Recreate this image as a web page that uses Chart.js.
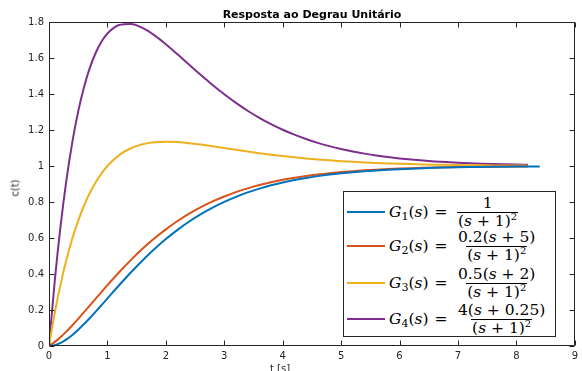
<!DOCTYPE html>
<html>
<head>
<meta charset="utf-8">
<script src="https://cdn.jsdelivr.net/npm/chart.js@4/dist/chart.umd.min.js"></script>
<style>
  html, body { margin: 0; padding: 0; background: #fff; overflow: hidden; }
  #wrap { position: relative; width: 582px; height: 371px; overflow: hidden; }
  #title { position: absolute; left: 162px; width: 300px; top: 8px; text-align: center;
    font: bold 11px "DejaVu Sans", sans-serif; line-height: 13px; color: #000; }
  #xlabel { position: absolute; left: 230px; width: 100px; top: 363px; text-align: center;
    font: 10px "DejaVu Sans", sans-serif; line-height: 12px; color: #262626; }
  #ylabel { position: absolute; left: 15px; top: 188px; transform: translate(-50%, -50%) rotate(-90deg);
    font: 10px "DejaVu Sans", sans-serif; color: #262626; white-space: nowrap; }
  #legend { position: absolute; left: 343px; top: 191px; width: 211px; height: 144px;
    background: #fff; border: 1px solid #262626; box-sizing: content-box; }
  .row { position: absolute; left: 0; width: 100%; height: 36px; }
  .sample { position: absolute; left: 3px; top: 17px; width: 38px; height: 2px; }
  .lab, .frac { position: absolute; top: 50%; transform: translateY(-50%);
    font-family: "DejaVu Serif", serif; font-size: 15.5px; line-height: 14.5px; color: #000; white-space: nowrap; }
  .lab { left: 45px; line-height: 16px; }
  .lab .eq { margin-left: 6px; }
  .lab sub { font-size: 11px; font-style: normal; vertical-align: -3px; line-height: 0; }
  .frac { left: 113px; display: inline-flex; flex-direction: column; align-items: center; }
  .frac span { display: block; padding: 0 1px; }
  .frac .num { padding-bottom: 1px; }
  .frac .den { border-top: 1px solid #000; padding-top: 1px; }
  .frac sup { font-size: 10px; vertical-align: 6px; line-height: 0; }
</style>
</head>
<body>
<div id="wrap">
  <canvas id="chart" width="582" height="371"></canvas>
  <div id="title">Resposta ao Degrau Unitário</div>
  <div id="xlabel">t [s]</div>
  <div id="ylabel">c(t)</div>
  <div id="legend"></div>
</div>
<script>
// tempo (s)
const tempo = [0, 0.1, 0.2, 0.3, 0.4, 0.5, 0.6, 0.7, 0.8, 0.9, 1.0,
  1.2, 1.4, 1.6, 1.8, 2.0, 2.2, 2.4, 2.6, 2.8, 3.0, 3.2, 3.4, 3.6, 3.8, 4.0,
  4.2, 4.4, 4.6, 4.8, 5.0, 5.2, 5.4, 5.6, 5.8, 6.0, 6.2, 6.4, 6.6, 6.8, 7.0,
  7.2, 7.4, 7.6, 7.8, 8.0, 8.2, 8.4];

const g1 = [0, 0.0047, 0.0175, 0.0369, 0.0616, 0.0902, 0.1219, 0.1558, 0.1912, 0.2275, 0.2642,
  0.3374, 0.4082, 0.4751, 0.5372, 0.5940, 0.6454, 0.6916, 0.7326, 0.7689, 0.8009, 0.8288, 0.8532,
  0.8743, 0.8926, 0.9084, 0.9220, 0.9337, 0.9437, 0.9523, 0.9596, 0.9658, 0.9711, 0.9756, 0.9794,
  0.9826, 0.9854, 0.9877, 0.9897, 0.9913, 0.9927, 0.9939, 0.9949, 0.9957, 0.9964, 0.9970, 0.9975, 0.9979];
const g2 = [0, 0.0228, 0.0503, 0.0814, 0.1152, 0.1509, 0.1878, 0.2253, 0.2631, 0.3007, 0.3378,
  0.4097, 0.4772, 0.5397, 0.5967, 0.6481, 0.6942, 0.7351, 0.7712, 0.8030, 0.8307, 0.8549, 0.8759,
  0.8940, 0.9096, 0.9231, 0.9346, 0.9445, 0.9530, 0.9602, 0.9663, 0.9715, 0.9760, 0.9797, 0.9829,
  0.9856, 0.9879, 0.9898, 0.9915, 0.9928, 0.9940, 0.9950, 0.9958, 0.9965, 0.9970, 0.9975, 0.9979];
const g3 = [0, 0.1856, 0.3450, 0.4814, 0.5978, 0.6967, 0.7805, 0.8510, 0.9101, 0.9593, 1.0000,
  1.0602, 1.0986, 1.1211, 1.1322, 1.1353, 1.1330, 1.1270, 1.1188, 1.1095, 1.0996, 1.0897, 1.0801,
  1.0710, 1.0626, 1.0549, 1.0480, 1.0417, 1.0362, 1.0313, 1.0270, 1.0232, 1.0199, 1.0170, 1.0145,
  1.0124, 1.0106, 1.0090, 1.0076, 1.0065, 1.0055, 1.0046, 1.0039, 1.0033, 1.0028, 1.0023, 1.0020];
const g4 = [0, 0.3666, 0.6725, 0.9259, 1.1341, 1.3033, 1.4390, 1.5462, 1.6291, 1.6912, 1.7358,
  1.7831, 1.7891, 1.7672, 1.7273, 1.6767, 1.6205, 1.5624, 1.5051, 1.4500, 1.3983, 1.3506, 1.3070,
  1.2678, 1.2327, 1.2015, 1.1740, 1.1498, 1.1287, 1.1103, 1.0943, 1.0805, 1.0687, 1.0584, 1.0497,
  1.0421, 1.0357, 1.0302, 1.0256, 1.0216, 1.0182, 1.0154, 1.0130, 1.0109, 1.0092, 1.0077, 1.0065];

const nomes = ['G1', 'G2', 'G3', 'G4'];
const numeradores = ['1', '0.2(<i>s</i> + 5)', '0.5(<i>s</i> + 2)', '4(<i>s</i> + 0.25)'];
const denominador = '(<i>s</i> + 1)<sup>2</sup>';
const cores = ['#0072BD', '#D95319', '#EDB120', '#7E2F8E'];
const xTicks = [0, 1, 2, 3, 4, 5, 6, 7, 8, 9];
const yTicks = [0, 0.2, 0.4, 0.6, 0.8, 1, 1.2, 1.4, 1.6, 1.8];

const series = [g1, g2, g3, g4];

function toPoints(vals) {
  return vals.map((v, i) => ({ x: tempo[i], y: v }));
}

// moldura estilo MATLAB com ticks para dentro
const frame = {
  id: 'frame',
  afterDatasetsDraw(chart) {
    const { ctx, chartArea: a, scales: { x, y } } = chart;
    ctx.save();
    ctx.strokeStyle = '#262626';
    ctx.lineWidth = 1;
    const L = Math.round(a.left) + 0.5, R = Math.round(a.right) - 0.5;
    const T = Math.round(a.top) + 0.5, B = Math.round(a.bottom) - 0.5;
    ctx.beginPath();
    ctx.rect(L, T, R - L, B - T);
    xTicks.forEach(v => {
      const px = Math.round(x.getPixelForValue(v)) + 0.5;
      ctx.moveTo(px, B); ctx.lineTo(px, B - 5);
      ctx.moveTo(px, T); ctx.lineTo(px, T + 5);
    });
    yTicks.forEach(v => {
      const py = Math.round(y.getPixelForValue(v)) + 0.5;
      ctx.moveTo(L, py); ctx.lineTo(L + 5, py);
      ctx.moveTo(R, py); ctx.lineTo(R - 5, py);
    });
    ctx.stroke();
    ctx.restore();
  }
};

const ctx = document.getElementById('chart').getContext('2d');
new Chart(ctx, {
  type: 'line',
  data: {
    datasets: series.map((s, i) => ({
      label: nomes[i],
      data: toPoints(s),
      borderColor: cores[i],
      borderWidth: 2,
      pointRadius: 0,
      fill: false,
      cubicInterpolationMode: 'monotone'
    }))
  },
  options: {
    responsive: false,
    animation: false,
    layout: { padding: { top: 22, right: 7, left: 0, bottom: 0 } },
    plugins: { legend: { display: false }, title: { display: false }, tooltip: { enabled: false } },
    scales: {
      x: {
        type: 'linear', min: 0, max: 9,
        afterFit: s => { s.height = 25; },
        afterBuildTicks: s => { s.ticks = xTicks.map(v => ({ value: v })); },
        grid: { display: false, drawTicks: false },
        border: { display: false },
        ticks: { padding: 4, color: '#262626', font: { family: 'DejaVu Sans', size: 10 }, maxRotation: 0 }
      },
      y: {
        type: 'linear', min: 0, max: 1.8,
        afterFit: s => { s.width = 49; },
        afterBuildTicks: s => { s.ticks = yTicks.map(v => ({ value: v })); },
        grid: { display: false, drawTicks: false },
        border: { display: false },
        ticks: { padding: 5, color: '#262626', font: { family: 'DejaVu Sans', size: 10 },
          callback: v => String(Number(v.toFixed(1))) }
      }
    }
  },
  plugins: [frame]
});

// legenda com as funções de transferência
const legend = document.getElementById('legend');
const centros = [20, 54, 91, 127];
nomes.forEach((n, i) => {
  const row = document.createElement('div');
  row.className = 'row';
  row.style.top = (centros[i] - 18) + 'px';
  row.innerHTML =
    `<div class="sample" style="background:${cores[i]}"></div>` +
    `<span class="lab"><i>G</i><sub>${n.slice(1)}</sub>(<i>s</i>)<span class="eq">=</span></span>` +
    `<span class="frac"><span class="num">${numeradores[i]}</span><span class="den">${denominador}</span></span>`;
  legend.appendChild(row);
});
</script>
</body>
</html>
